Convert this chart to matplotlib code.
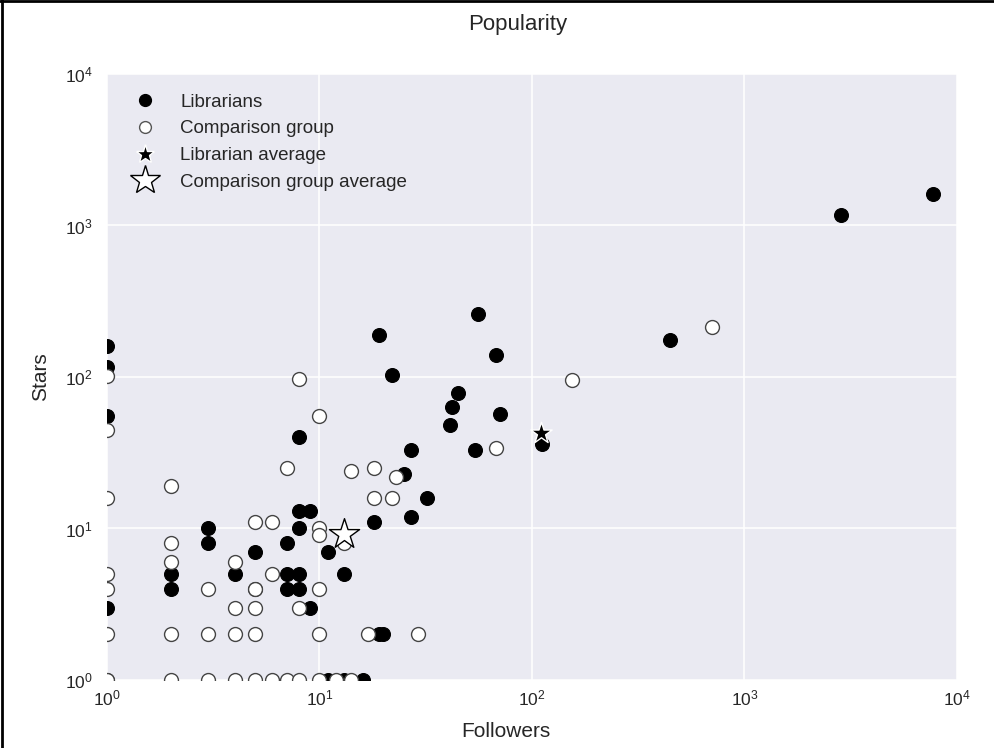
import numpy as np
import matplotlib
matplotlib.use("Agg")
import matplotlib.pyplot as plt
from matplotlib.lines import Line2D

# followers / stars
lib_followers = [1, 1, 1, 1, 1,
                 2, 2, 3, 3, 4, 5, 5,
                 7, 7, 7, 8, 8, 8, 8, 8, 9, 9,
                 11, 11, 13, 13, 16, 18, 19, 19, 20,
                 22, 25, 27, 27, 32, 41, 42, 45,
                 54, 56, 68, 71, 111, 446, 2850, 7700]
lib_stars = [160, 117, 55, 3, 1,
             5, 4, 10, 8, 5, 7, 4,
             8, 5, 4, 40, 13, 10, 5, 4, 13, 3,
             7, 1, 5, 1, 1, 11, 190, 2, 2,
             103, 23, 33, 12, 16, 48, 63, 79,
             33, 260, 140, 57, 36, 175, 1170, 1620]

cmp_followers = [1, 1, 1, 1, 1, 1, 1,
                 2, 2, 2, 2, 2,
                 3, 3, 3,
                 4, 4, 4, 4,
                 5, 5, 5, 5, 5,
                 6, 6, 6,
                 7, 7,
                 8, 8, 8,
                 10, 10, 10, 10, 10, 10,
                 12, 13, 14, 14,
                 17, 18, 18, 22, 23, 29,
                 68, 155, 700]
cmp_stars = [102, 45, 16, 5, 4, 2, 1,
             19, 8, 6, 2, 1,
             4, 2, 1,
             6, 3, 2, 1,
             11, 4, 3, 2, 1,
             11, 5, 1,
             25, 1,
             97, 3, 1,
             55, 10, 9, 4, 2, 1,
             1, 8, 24, 1,
             2, 25, 16, 16, 22, 2,
             34, 95, 214]

lib_avg = (110, 42.5)
cmp_avg = (13.0, 9.2)

plt.rcParams['font.family'] = ['Liberation Sans', 'DejaVu Sans']
plt.rcParams['mathtext.fontset'] = 'custom'
plt.rcParams['mathtext.rm'] = 'Liberation Sans'
plt.rcParams['mathtext.it'] = 'Liberation Sans'
plt.rcParams['text.color'] = '#262626'
plt.rcParams['axes.labelcolor'] = '#262626'
plt.rcParams['xtick.color'] = '#262626'
plt.rcParams['ytick.color'] = '#262626'
plt.rcParams['xtick.major.size'] = 0
plt.rcParams['ytick.major.size'] = 0
plt.rcParams['xtick.minor.size'] = 0
plt.rcParams['ytick.minor.size'] = 0

fig = plt.figure(figsize=(9.95, 7.48), dpi=100)
ax = fig.add_axes([0.1075, 0.0909, 0.8543, 0.8102])
ax.set_facecolor('#EAEAF2')
for s in ax.spines.values():
    s.set_visible(False)
ax.set_axisbelow(True)
ax.grid(True, which='major', color='white', linewidth=1.1)

ax.scatter(lib_followers, lib_stars, s=100, c='black', edgecolors='black',
           linewidths=0.8, zorder=3)
ax.scatter(cmp_followers, cmp_stars, s=100, c='white', edgecolors='#444444',
           linewidths=1.0, zorder=4)
ax.scatter([lib_avg[0]], [lib_avg[1]], marker='*', s=260, c='black',
           edgecolors='white', linewidths=1.0, zorder=5)
ax.scatter([cmp_avg[0]], [cmp_avg[1]], marker='*', s=520, c='white',
           edgecolors='black', linewidths=1.0, zorder=5)

ax.set_xscale('log')
ax.set_yscale('log')
ax.set_xlim(1, 1e4)
ax.set_ylim(1, 1e4)
ax.minorticks_off()
ax.tick_params(axis='x', labelsize=12.5, pad=6)
ax.tick_params(axis='y', labelsize=12.5, pad=10)

ax.set_title('Popularity', fontsize=16, pad=32, x=0.4835)
ax.set_xlabel('Followers', fontsize=15, labelpad=10, x=0.469)
ax.set_ylabel('Stars', fontsize=15, labelpad=11)

handles = [
    Line2D([], [], ls='none', marker='o', ms=8.5, mfc='black', mec='black'),
    Line2D([], [], ls='none', marker='o', ms=8.5, mfc='white', mec='#555555'),
    Line2D([], [], ls='none', marker='*', ms=14, mfc='black', mec='white'),
    Line2D([], [], ls='none', marker='*', ms=22, mfc='white', mec='black'),
]
labels = ['Librarians', 'Comparison group', 'Librarian average',
          'Comparison group average']
ax.legend(handles, labels, loc='upper left', bbox_to_anchor=(0.0138, 0.980),
          frameon=False, fontsize=13.5, labelspacing=0.51, handletextpad=0.87,
          borderaxespad=0)

# frame lines of the screenshot (left and top)
fig.add_artist(Line2D([0.002, 0.002], [0, 1], color='black', lw=2,
                      transform=fig.transFigure))
fig.add_artist(Line2D([0, 1], [0.998, 0.998], color='black', lw=2,
                      transform=fig.transFigure))

fig.savefig('out.png', dpi=100)
